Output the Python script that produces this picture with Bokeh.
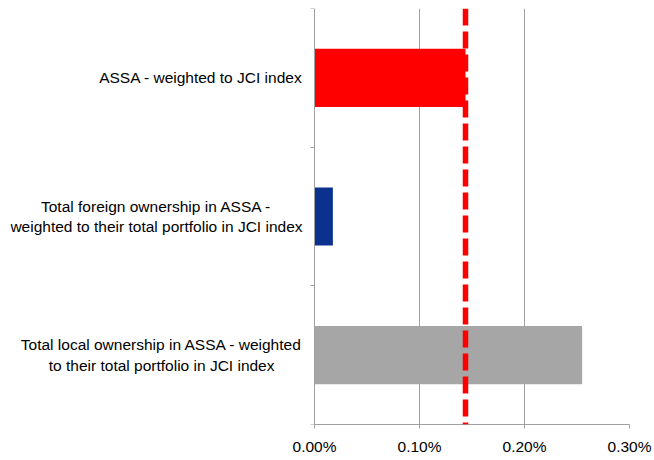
from bokeh.plotting import figure
from bokeh.models import Range1d, LinearAxis, FixedTicker, Span, PrintfTickFormatter
from bokeh.core.properties import value
from bokeh.embed import file_html
from bokeh.resources import INLINE

categories = [
    "ASSA - weighted to JCI index",
    "Total foreign ownership in ASSA -\nweighted to their total portfolio in JCI index",
    "Total local ownership in ASSA - weighted\nto their total portfolio in JCI index",
]
values_pct = [0.1438, 0.0175, 0.2549]
bar_colors = ["#FF0000", "#0B318F", "#A6A6A6"]
benchmark_pct = 0.1438
x_ticks = [0.0, 0.1, 0.2, 0.3]

FONT = "Liberation Sans"
FS = "15.5px"
GRAY = "#A0A0A0"

# layout (pixels)
W, H = 654, 460
FRAME_L, AXIS_X, FRAME_R = 10, 314, 629
x_max = 0.3
# extend the x range to the left so the category labels live inside the frame
x_min = -x_max * (AXIS_X - FRAME_L) / (FRAME_R - AXIS_X)

n = len(categories)
ys = [i + 0.5 for i in range(n)]

p = figure(width=W, height=H, output_backend="svg", toolbar_location=None,
           x_range=Range1d(x_min, x_max), y_range=Range1d(n, 0),
           y_axis_location=None,
           min_border_left=FRAME_L, min_border_right=W - FRAME_R,
           min_border_top=8, min_border_bottom=36)
p.outline_line_color = None

p.hbar(y=ys, left=0, right=values_pct, height=0.42, fill_color=bar_colors, line_color=None)

xa = p.xaxis[0]
xa.bounds = (0, x_max)
xa.ticker = FixedTicker(ticks=x_ticks)
xa.formatter = PrintfTickFormatter(format="%.2f%%")
xa.axis_line_color = GRAY
xa.major_tick_line_color = GRAY
xa.major_tick_out = 4
xa.major_tick_in = 0
xa.minor_tick_line_color = None
xa.major_label_text_font = FONT
xa.major_label_text_font_size = FS
xa.major_label_text_color = "#000000"
xa.major_label_standoff = 9

p.xgrid.ticker = FixedTicker(ticks=x_ticks[1:])
p.xgrid.grid_line_color = GRAY
p.ygrid.visible = False

# category axis drawn at x = 0, short ticks at the category boundaries
left_axis = LinearAxis(ticker=FixedTicker(ticks=[], minor_ticks=list(range(n + 1))),
                       fixed_location=0,
                       axis_line_color=GRAY, major_tick_line_color=None,
                       major_tick_out=0, major_tick_in=0,
                       minor_tick_line_color=GRAY, minor_tick_out=4, minor_tick_in=0)
p.add_layout(left_axis, "left")

# category labels: lines centred, block right-aligned next to the axis
p.text(x=[0] * n, y=ys, text=categories, x_offset=-12,
       anchor=value("center_right"), text_align="center", text_baseline="middle",
       text_font=value(FONT), text_font_size=value(FS), text_color="#000000")

p.add_layout(Span(location=benchmark_pct, dimension="height", line_color="#FF0000",
                  line_width=5.5, line_dash="17 6"))

open("out.html", "w").write(file_html(p, INLINE))
